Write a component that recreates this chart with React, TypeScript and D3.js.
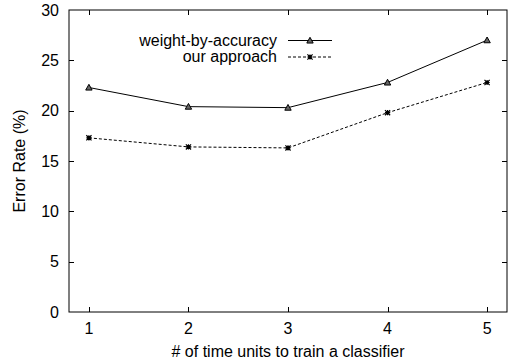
import { useRef, useEffect } from "react";
import * as d3 from "d3";

const xValues = [1, 2, 3, 4, 5];
const weightByAccuracy = [22.3, 20.4, 20.3, 22.8, 27.0];
const ourApproach = [17.3, 16.4, 16.3, 19.8, 22.8];
const yTicks = [0, 5, 10, 15, 20, 25, 30];
const seriesNames = ["weight-by-accuracy", "our approach"];

const W = 509;
const H = 364;
const FONT = "'Liberation Sans', Arial, Helvetica, sans-serif";
const FS = "16px";

export default function App() {
  const svgRef = useRef<SVGSVGElement>(null);

  useEffect(() => {
    if (!svgRef.current) return;
    const svg = d3.select(svgRef.current);
    svg.selectAll("*").remove();

    const margin = { top: 10, right: 2, bottom: 52, left: 69 };
    const x0 = margin.left;
    const x1 = W - margin.right;
    const y0 = margin.top;
    const y1 = H - margin.bottom;

    const x = d3.scaleLinear().domain([0.8, 5.2]).range([x0, x1]);
    const y = d3.scaleLinear().domain([0, 30]).range([y1, y0]);

    const tickLen = 5;

    // frame
    svg
      .append("rect")
      .attr("x", x0)
      .attr("y", y0)
      .attr("width", x1 - x0)
      .attr("height", y1 - y0)
      .attr("fill", "none")
      .attr("stroke", "#000")
      .attr("stroke-width", 1);

    // y ticks (mirrored)
    yTicks.forEach((t) => {
      const yy = Math.round(y(t)) + 0.5;
      if (t !== 0 && t !== 30) {
        svg.append("line").attr("x1", x0).attr("x2", x0 + tickLen).attr("y1", yy).attr("y2", yy).attr("stroke", "#000");
        svg.append("line").attr("x1", x1).attr("x2", x1 - tickLen).attr("y1", yy).attr("y2", yy).attr("stroke", "#000");
      }
      svg
        .append("text")
        .attr("x", x0 - 10)
        .attr("y", y(t) + 5.5)
        .attr("text-anchor", "end")
        .attr("font-size", FS)
        .attr("font-family", FONT)
        .text(t);
    });

    // x ticks (mirrored)
    xValues.forEach((v) => {
      const xx = Math.round(x(v)) + 0.5;
      svg.append("line").attr("x1", xx).attr("x2", xx).attr("y1", y1).attr("y2", y1 - tickLen).attr("stroke", "#000");
      svg.append("line").attr("x1", xx).attr("x2", xx).attr("y1", y0).attr("y2", y0 + tickLen).attr("stroke", "#000");
      svg
        .append("text")
        .attr("x", x(v))
        .attr("y", y1 + 22)
        .attr("text-anchor", "middle")
        .attr("font-size", FS)
        .attr("font-family", FONT)
        .text(v);
    });

    // axis titles
    svg
      .append("text")
      .attr("x", (x0 + x1) / 2)
      .attr("y", 357)
      .attr("text-anchor", "middle")
      .attr("font-size", FS)
      .attr("font-family", FONT)
      .text("# of time units to train a classifier");

    svg
      .append("text")
      .attr("transform", `translate(25,${(y0 + y1) / 2}) rotate(-90)`)
      .attr("text-anchor", "middle")
      .attr("font-size", FS)
      .attr("font-family", FONT)
      .text("Error Rate (%)");

    const line = d3
      .line<number>()
      .x((_, i) => x(xValues[i]))
      .y((d) => y(d));

    const triangle = (g: d3.Selection<SVGGElement, unknown, null, undefined>, cx: number, cy: number) => {
      const s = 3.2;
      g.append("path")
        .attr("d", `M${cx},${cy - s}L${cx + s},${cy + s * 0.8}L${cx - s},${cy + s * 0.8}Z`)
        .attr("fill", "#666")
        .attr("stroke", "#000")
        .attr("stroke-width", 1);
    };
    const star = (g: d3.Selection<SVGGElement, unknown, null, undefined>, cx: number, cy: number) => {
      const s = 2.6;
      g.append("path")
        .attr(
          "d",
          `M${cx - s},${cy}L${cx + s},${cy}M${cx},${cy - s}L${cx},${cy + s}M${cx - s},${cy - s}L${cx + s},${cy + s}M${cx - s},${cy + s}L${cx + s},${cy - s}`
        )
        .attr("stroke", "#000")
        .attr("stroke-width", 1.2);
      g.append("rect")
        .attr("x", cx - 1.5)
        .attr("y", cy - 1.5)
        .attr("width", 3)
        .attr("height", 3)
        .attr("fill", "#000");
    };

    const series = [
      { name: seriesNames[0], values: weightByAccuracy, dash: null, marker: triangle },
      { name: seriesNames[1], values: ourApproach, dash: "3,2", marker: star },
    ];

    series.forEach((s, si) => {
      const g = svg.append("g");
      g.append("path")
        .attr("d", line(s.values))
        .attr("fill", "none")
        .attr("stroke", "#000")
        .attr("stroke-width", 1)
        .attr("stroke-dasharray", s.dash);
      s.values.forEach((v, i) => s.marker(g, x(xValues[i]), y(v)));

      // legend
      const ly = 40.5 + si * 16.5;
      svg
        .append("text")
        .attr("x", 277)
        .attr("y", ly + 5)
        .attr("text-anchor", "end")
        .attr("font-size", FS)
        .attr("font-family", FONT)
        .text(s.name);
      const lg = svg.append("g");
      lg.append("line")
        .attr("x1", 288)
        .attr("x2", 332)
        .attr("y1", ly)
        .attr("y2", ly)
        .attr("stroke", "#000")
        .attr("stroke-dasharray", s.dash);
      s.marker(lg, 310, ly);
    });
  }, []);

  return (
    <svg
      ref={svgRef}
      width={W}
      height={H}
      style={{ position: "absolute", left: 0, top: 0, background: "#fff" }}
    />
  );
}
